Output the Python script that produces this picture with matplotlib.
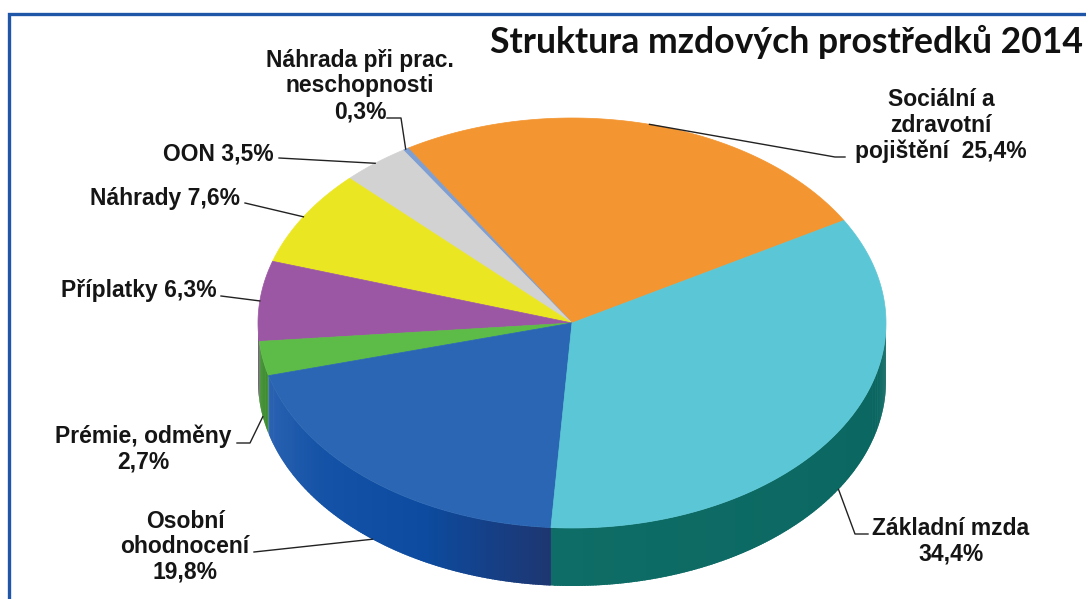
import numpy as np
import matplotlib
matplotlib.use("Agg")
import matplotlib.pyplot as plt
from matplotlib.patches import Polygon
from matplotlib.colors import to_rgb

# data (counter-clockwise, starting at 30 degrees)
categories = ["Sociální a\nzdravotní\npojištění", "Náhrada při prac.\nneschopnosti", "OON", "Náhrady",
              "Příplatky", "Prémie, odměny", "Osobní\nohodnocení", "Základní mzda"]
values = [25.4, 0.3, 3.5, 7.6, 6.3, 2.7, 19.8, 34.4]
separators = ["  ", "\n", " ", " ", " ", "\n", "\n", "\n"]
top_colors = ["#f39530", "#7f9fd2", "#d2d2d2", "#ebe622", "#9c57a4", "#5dbb47", "#2a66b3", "#5bc6d5"]
side_colors = [["#b86a18"], ["#5a78a8"], ["#9a9a9a"], ["#b0aa10"], ["#74407e"], ["#3f8d31"],
               ["#2c63b2", "#1352a6", "#0c4b9f", "#1e3671"], ["#0e6d66", "#0a6560"]]
title = "Struktura mzdových prostředků 2014"

# layout
cx, cy, a, b, depth = 572, 323, 314, 205, 58
start_angle = 30

# text position (x, last baseline), alignment, leader points (text side) per category
label_pos = [(941, 158, "center"), (360, 118, "center"), (274, 161, "right"), (240, 205, "right"),
             (217, 297, "right"), (143, 469, "center"), (185, 579, "center"), (951, 561, "center")]
leader_pts = [[(845, 157), (835, 157)], [(387, 118), (401, 118)], [(279, 158)], [(245, 203)],
              [(221, 296)], [(237, 443), (250, 443)], [(254, 552)], [(868, 534), (855, 534)]]


def ell(t, drop=0.0):
    r = np.radians(t)
    return cx + a * np.cos(r), cy - b * np.sin(r) + drop


def grad_color(stops, f):
    if len(stops) == 1:
        return stops[0]
    pos = f * (len(stops) - 1)
    i = min(int(pos), len(stops) - 2)
    w = pos - i
    c1, c2 = np.array(to_rgb(stops[i])), np.array(to_rgb(stops[i + 1]))
    return tuple(c1 * (1 - w) + c2 * w)


fig = plt.figure(figsize=(10.86, 5.99), dpi=100)
ax = fig.add_axes([0, 0, 1, 1])
ax.set_xlim(0, 1086)
ax.set_ylim(599, 0)
ax.axis("off")

total = sum(values)
bounds = start_angle + 360 * np.concatenate([[0], np.cumsum(values)]) / total

# side walls (front half only), drawn as overlapping strips for the shading
for i in range(len(values)):
    t1, t2 = max(bounds[i], 180), min(bounds[i + 1], 360)
    if t2 <= t1:
        continue
    n = max(1, int((t2 - t1) / 0.5))
    ts = np.linspace(t1, t2, n + 1)
    for k in range(n):
        s = np.linspace(ts[k], min(ts[k + 1] + 0.4, t2), 4)
        xs, ys = ell(s)
        xb, yb = ell(s[::-1], depth)
        poly = np.column_stack([np.concatenate([xs, xb]), np.concatenate([ys, yb])])
        f = ((ts[k] + ts[k + 1]) / 2 - t1) / (t2 - t1)
        c = grad_color(side_colors[i], f)
        ax.add_patch(Polygon(poly, closed=True, facecolor=c, edgecolor="none", zorder=1))

# top faces
for i in range(len(values)):
    s = np.linspace(bounds[i], bounds[i + 1], max(3, int((bounds[i + 1] - bounds[i]) * 2)))
    xs, ys = ell(s)
    poly = np.column_stack([np.concatenate([[cx], xs]), np.concatenate([[cy], ys])])
    ax.add_patch(Polygon(poly, closed=True, facecolor=top_colors[i], edgecolor=top_colors[i],
                         lw=0.5, zorder=2))

# labels and leader lines
for i in range(len(values)):
    mid = (bounds[i] + bounds[i + 1]) / 2
    drop = depth if np.sin(np.radians(mid)) < 0 else 0
    anchor = ell(mid, drop)
    pts = leader_pts[i] + [anchor]
    ax.plot([p[0] for p in pts], [p[1] for p in pts], color="#222222", lw=1.0, zorder=3)
    txt = categories[i] + separators[i] + ("%.1f%%" % values[i]).replace(".", ",")
    x, y, ha = label_pos[i]
    ax.text(x, y, txt, ha=ha, va="baseline", multialignment="center", fontsize=16.5,
            fontweight="bold", family="Liberation Sans", color="#151515", linespacing=1.15, zorder=4)

ax.text(490, 42, title, ha="left", va="center", fontsize=25.6, fontweight="bold",
        family="Lato", color="#111111")

# frame
ax.plot([9, 9, 1086], [599, 14, 14], color="#1f56a8", lw=2.4, solid_joinstyle="miter")

fig.savefig("out.png", dpi=100)
